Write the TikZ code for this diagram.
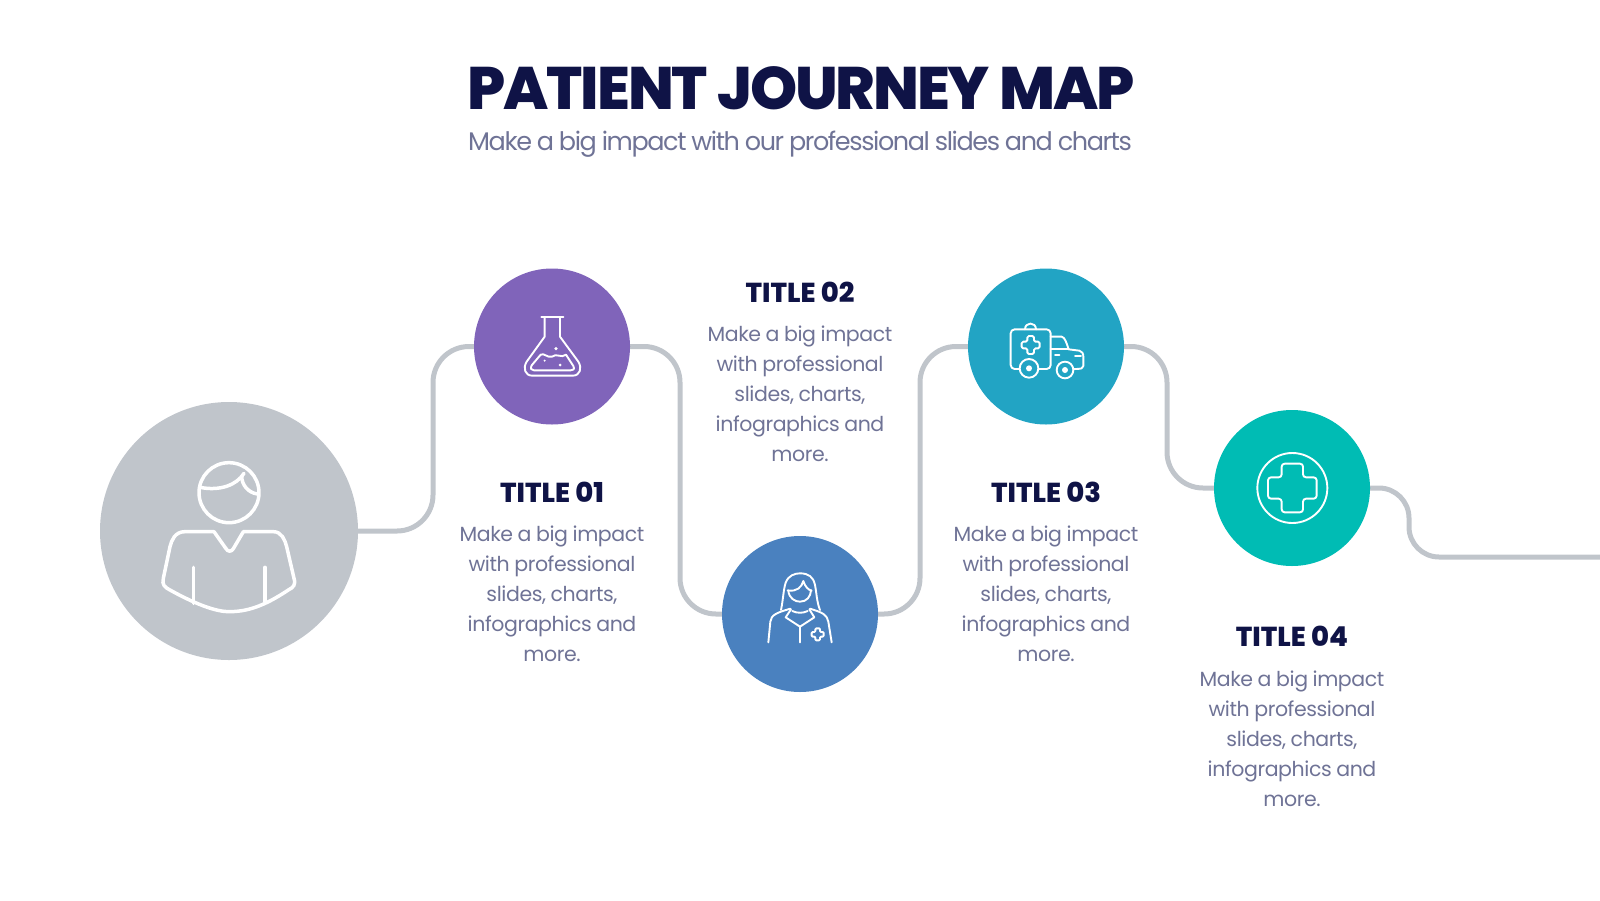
\documentclass[tikz,border=0pt]{standalone}
\usepackage{fontspec}
\usetikzlibrary{backgrounds}
\setmainfont{Poppins}
\newfontfamily\bodyfont[LetterSpace=-2,WordSpace=0.9]{Poppins}
\newfontfamily\headfont{Poppins ExtraBold}
\newfontfamily\titlefont[LetterSpace=-3.6]{Poppins ExtraBold}
\newfontfamily\subhead[LetterSpace=-5.5,WordSpace=0.9]{Poppins}
\definecolor{navy}{HTML}{0F1346}
\definecolor{bodygray}{HTML}{6F7396}
\definecolor{linkgray}{HTML}{C0C5CB}
\definecolor{cPurple}{HTML}{8064BA}
\definecolor{cBlue}{HTML}{4A81BF}
\definecolor{cTeal}{HTML}{22A4C4}
\definecolor{cGreen}{HTML}{00BCB4}
\tikzset{
  stepdisc/.style={circle,draw=none,inner sep=0pt,minimum size=156pt},
  link/.style={draw=linkgray,line width=5pt,rounded corners=36pt},
  smallicon/.style={draw=white,line width=1.9pt,line join=round,line cap=round},
  bigicon/.style={draw=white,line width=3.5pt,line join=round,line cap=round},
  headlabel/.style={font=\headfont\fontsize{27.4}{32}\selectfont,text=navy,inner sep=0pt},
  bodylabel/.style={font=\bodyfont\fontsize{20.5}{30}\selectfont,text=bodygray,align=flush center,inner sep=0pt,text width=240pt},
  zoomed/.style={x=0.33333pt,y=-0.33333pt}
}
\newcommand{\plusmark}[5]{% x y halfwidth extent radius
  \draw[smallicon,rounded corners=#5,shift={(#1,#2)}]
    (-#3,-#4) -- (#3,-#4) -- (#3,-#3) -- (#4,-#3) -- (#4,#3) -- (#3,#3) -- (#3,#4)
    -- (-#3,#4) -- (-#3,#3) -- (-#4,#3) -- (-#4,-#3) -- (-#3,-#3) -- cycle;}
\begin{document}
\begin{tikzpicture}[x=1pt,y=-1pt]
\useasboundingbox (0,0) rectangle (1600,900);
% title
\node[font=\titlefont\fontsize{60}{70}\selectfont,text=navy,inner sep=0pt] (maintitle) at (801,88) {PATIENT JOURNEY MAP};
\node[font=\subhead\fontsize{25.5}{30}\selectfont,text=bodygray,inner sep=0pt] (subtitle) at (800,144) {Make a big impact with our professional slides and charts};
% discs
\node[circle,inner sep=0pt,minimum size=258pt,fill=linkgray] (c0) at (229,531) {};
\node[stepdisc,fill=cPurple] (c1) at (552,346.5) {};
\node[stepdisc,fill=cBlue] (c2) at (800,614) {};
\node[stepdisc,fill=cTeal] (c3) at (1046,346.5) {};
\node[stepdisc,fill=cGreen] (c4) at (1292,488) {};
% connector waypoints
\coordinate (r1) at (433,440);
\coordinate (r2) at (680,480);
\coordinate (r3) at (920,480);
\coordinate (r4) at (1167,420);
\coordinate (a1) at (1379,488);
\coordinate (a2) at (1409,518);
\coordinate (a3) at (1409,527);
\coordinate (a4) at (1439,557);
\coordinate (endpt) at (1600,557);
\begin{scope}[on background layer]
\draw[link] (c0.east) -| (r1) |- (c1.west);
\draw[link] (c1.east) -| (r2) |- (c2.west);
\draw[link] (c2.east) -| (r3) |- (c3.west);
\draw[link] (c3.east) -| (r4) |- (c4.west);
\draw[draw=linkgray,line width=5pt] (c4.east) -- (a1) .. controls +(16.5,0) and +(0,-16.5) .. (a2) -- (a3) .. controls +(0,16.5) and +(-16.5,0) .. (a4) -- (endpt);
\end{scope}
% person
\begin{scope}[shift={(90,390)},zoomed]
\draw[bigicon] (417,308) ellipse [x radius=90,y radius=90];
\draw[bigicon] (330,292) .. controls (390,304) and (440,285) .. (462,250);
\draw[bigicon] (455,258) .. controls (455,285) and (475,308) .. (502,312);
\draw[bigicon] (350,425) -- (285,425) .. controls (255,425) and (245,450) .. (240,470) -- (220,565)
  .. controls (215,585) and (225,592) .. (240,600) .. controls (330,650) and (385,665) .. (417,665)
  .. controls (470,665) and (520,650) .. (595,600) .. controls (610,592) and (618,585) .. (612,565)
  -- (590,470) .. controls (585,450) and (575,425) .. (550,425) -- (460,425) -- (430,476)
  .. controls (424,486) and (414,486) .. (408,476) -- (372,425) -- cycle;
\draw[bigicon] (310,532) -- (310,640);
\draw[bigicon] (525,532) -- (525,635);
\end{scope}
% flask
\begin{scope}[shift={(470,260)},zoomed]
\draw[smallicon] (214,172) -- (280,172);
\draw[smallicon] (224,172) -- (224,230) -- (170,305) .. controls (158,325) and (165,347) .. (187,347)
  -- (308,347) .. controls (330,347) and (337,325) .. (325,305) -- (270,230) -- (270,172);
\draw[smallicon] (185,316) -- (212,284) .. controls (222,278) and (232,294) .. (246,290)
  .. controls (258,278) and (275,296) .. (288,284) -- (310,318) .. controls (315,328) and (310,331) .. (302,331)
  -- (192,331) .. controls (184,331) and (180,326) .. (185,316) -- cycle;
\fill[white] (258,266) circle [radius=1.8pt];
\fill[white] (224,302) circle [radius=1.1pt];
\fill[white] (270,315) circle [radius=1.5pt];
\end{scope}
% doctor
\begin{scope}[shift={(715,530)},zoomed]
\draw[smallicon] (198,240) .. controls (205,205) and (205,180) .. (212,158) .. controls (220,136) and (240,130) .. (255,130)
  .. controls (280,130) and (295,140) .. (300,165) .. controls (305,190) and (305,215) .. (315,240);
\draw[smallicon] (218,181) .. controls (245,186) and (260,172) .. (265,153) .. controls (270,170) and (280,180) .. (290,182);
\draw[smallicon] (220,182) .. controls (222,205) and (240,215) .. (255,215) .. controls (275,215) and (287,200) .. (288,181);
\draw[smallicon] (160,337) -- (166,275) .. controls (168,255) and (185,248) .. (226,236);
\draw[smallicon] (350,337) -- (340,275) .. controls (336,255) and (325,248) .. (285,236);
\draw[smallicon] (228,238) -- (212,262) -- (255,290) -- (298,262) -- (283,238);
\draw[smallicon] (232,243) .. controls (245,250) and (265,250) .. (278,243);
\draw[smallicon] (255,290) -- (255,337);
\plusmark{308}{313}{7}{18}{1pt}
\end{scope}
% ambulance
\begin{scope}[shift={(960,260)},zoomed]
\draw[smallicon,rounded corners=4pt] (272,327) -- (152,327) -- (152,208) -- (272,208) -- cycle;
\draw[smallicon] (195,208) .. controls (195,185) and (228,185) .. (228,208);
\plusmark{212}{255}{10}{27}{1.5pt}
\draw[smallicon] (272,230) -- (305,230) .. controls (315,232) and (320,250) .. (326,268) -- (358,272)
  .. controls (366,274) and (370,280) .. (370,290) -- (370,318) .. controls (370,325) and (365,327) .. (342,327);
\draw[smallicon] (272,268) -- (326,268);
\draw[smallicon] (285,285) -- (298,285);
\draw[smallicon] (345,288) -- (363,288);
\draw[smallicon,fill=cTeal] (207,325) ellipse [x radius=28,y radius=28];
\draw[smallicon,fill=cTeal] (315,330) ellipse [x radius=25,y radius=25];
\fill[white] (207,325) circle [radius=3pt];
\fill[white] (315,330) circle [radius=3pt];
\end{scope}
% cross
\begin{scope}[shift={(1205,405)},zoomed]
\draw[smallicon] (262,249) ellipse [x radius=105,y radius=105];
\plusmark{262}{249}{32}{73}{3pt}
\end{scope}
% labels
\node[headlabel] (h1) at (552,492) {TITLE 01};
\node[bodylabel] (b1) at (552,594) {Make a big impact\\with professional\\slides, charts,\\infographics and\\more.};
\node[headlabel] (h2) at (800,292) {TITLE 02};
\node[bodylabel] (b2) at (800,394) {Make a big impact\\with professional\\slides, charts,\\infographics and\\more.};
\node[headlabel] (h3) at (1046,492) {TITLE 03};
\node[bodylabel] (b3) at (1046,594) {Make a big impact\\with professional\\slides, charts,\\infographics and\\more.};
\node[headlabel] (h4) at (1292,636.5) {TITLE 04};
\node[bodylabel] (b4) at (1292,739) {Make a big impact\\with professional\\slides, charts,\\infographics and\\more.};
\end{tikzpicture}
\end{document}
